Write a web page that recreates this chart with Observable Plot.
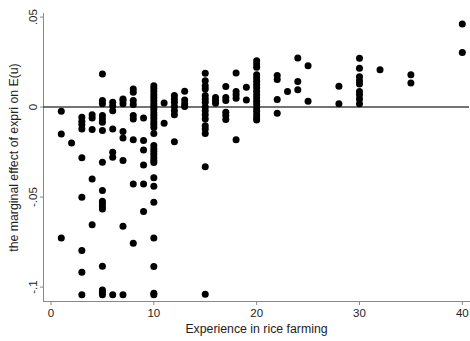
<!DOCTYPE html>
<html>
<head>
<meta charset="utf-8">
<script src="https://cdn.jsdelivr.net/npm/d3@7"></script>
<script src="https://cdn.jsdelivr.net/npm/@observablehq/plot@0.6"></script>
<style>
  html, body { margin: 0; padding: 0; background: #fff; }
  #chart svg { display: block; }
</style>
</head>
<body>
<div id="chart"></div>
<script>
// Experience in rice farming (years) for each column of points
const experience = [1, 2, 3, 4, 5, 6, 7, 8, 9, 10, 11, 12, 13, 15, 16, 17, 18, 19, 20, 22, 23, 24, 25, 28, 30, 32, 35, 40];
// Marginal effect of expri on E(u) for each experience column
const effects = [
  [-0.0023, -0.015, -0.0727],
  [-0.020],
  [-0.0057, -0.0079, -0.0097, -0.0121, -0.0282, -0.0501, -0.0797, -0.0918, -0.1043],
  [-0.0042, -0.006, -0.0125, -0.0399, -0.0653],
  [0.0184, 0.0036, 0.0018, -0.0047, -0.0066, -0.0084, -0.013, -0.0307, -0.0464, -0.0523, -0.0538, -0.0553, -0.0566, -0.0884, -0.1016, -0.1029, -0.1043],
  [0.0027, 0.0008, -0.002, -0.0121, -0.0251, -0.0279, -0.1043],
  [0.0045, 0.0036, 0.0018, -0.0136, -0.0171, -0.0297, -0.0662, -0.1043],
  [0.0101, 0.0082, 0.0036, 0.0014, -0.0047, -0.0066, -0.0182, -0.0427, -0.0757],
  [-0.006, -0.0186, -0.0238, -0.0321, -0.0427, -0.058],
  [0.0119, 0.0103, 0.0086, 0.0069, 0.0053, 0.0036, 0.0019, 0.0003, -0.0014, -0.0031, -0.0047, -0.0064, -0.0081, -0.0097, -0.0114, -0.0147, -0.0214, -0.0231, -0.0247, -0.0264, -0.0281, -0.0297, -0.0308, -0.0393, -0.044, -0.0529, -0.0727, -0.0886, -0.1034, -0.1043],
  [0.0023, -0.009],
  [0.0064, 0.0045, 0.0027, 0.0003, -0.002, -0.0042, -0.0192],
  [0.0088, 0.004, 0.0018, 0.0003],
  [0.0188, 0.0147, 0.0119, 0.0101, 0.0064, 0.0045, 0.0027, 0, -0.002, -0.0042, -0.0066, -0.0103, -0.0121, -0.0146, -0.0331, -0.104],
  [0.0054, 0.0036, 0.0021],
  [0.0114, 0.0054, 0.0036, -0.0029, -0.0047, -0.0069],
  [0.019, 0.0086, 0.0068, 0.0049, -0.0182],
  [0.011, 0.004],
  [0.0258, 0.024, 0.0221, 0.018, 0.0162, 0.0143, 0.0125, 0.0107, 0.0088, 0.0069, 0.0051, 0.0032, 0.0014, -0.0005, -0.0023, -0.0042, -0.006, -0.0071],
  [0.0175, 0.0153, 0.0042, -0.0034],
  [0.0086],
  [0.0273, 0.0142, 0.0097],
  [0.023, 0.0032],
  [0.0116, 0.0018],
  [0.0271, 0.0216, 0.0169, 0.0147, 0.0129, 0.0086, 0.0068, 0.0045, 0.0018],
  [0.0208],
  [0.018, 0.0134],
  [0.0462, 0.0304]
];
const xTicks = [0, 10, 20, 30, 40];
const yTicks = [-0.1, -0.05, 0, 0.05];
const xTitle = "Experience in rice farming";
const yTitle = "the marginal effect of expri on E(u)";

const points = experience.flatMap((x, i) => effects[i].map(y => ({x, y})));
const fmtY = d => d === 0 ? "0" : String(d).replace("0.", ".");

const chart = Plot.plot({
  width: 470,
  height: 341,
  marginLeft: 43,
  marginRight: 1,
  marginTop: 13,
  marginBottom: 40,
  style: {fontFamily: "'Liberation Sans', Arial, sans-serif", fontSize: "11px", color: "#222", background: "#fff"},
  x: {domain: [-0.73, 40.7]},
  y: {domain: [-0.108, 0.052]},
  marks: [
    Plot.frame({anchor: "left", stroke: "#888", strokeWidth: 1}),
    Plot.frame({anchor: "bottom", stroke: "#888", strokeWidth: 1}),
    Plot.axisX({ticks: xTicks, tickSize: 4, tickPadding: 3, stroke: "#888", fill: "#222", fontSize: 11.5, label: null}),
    Plot.axisY({ticks: yTicks, tickSize: 3, tickPadding: 4, tickRotate: -90, tickFormat: fmtY, stroke: "#888", fill: "#222", fontSize: 11.5, label: null}),
    Plot.text([xTitle], {frameAnchor: "bottom", dy: 31, text: d => d, fill: "#222", fontSize: 12.3}),
    Plot.text([yTitle], {frameAnchor: "left", dx: -29, rotate: -90, textAnchor: "middle", text: d => d, fill: "#222", fontSize: 12.3}),
    Plot.ruleY([0], {stroke: "#444", strokeWidth: 1.5}),
    Plot.dot(points, {x: "x", y: "y", r: 3.5, fill: "#000", stroke: "none"})
  ]
});
document.getElementById("chart").appendChild(chart);
</script>
</body>
</html>
